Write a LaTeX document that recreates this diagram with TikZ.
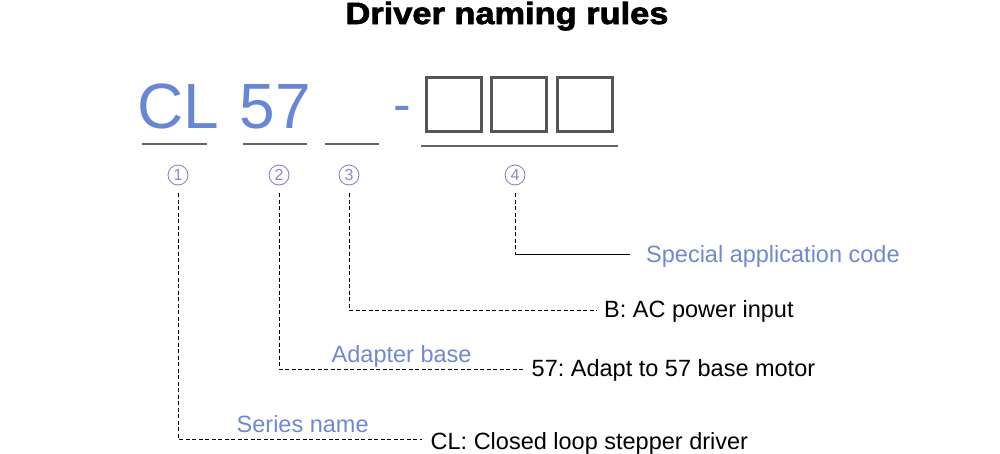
\documentclass[tikz,border=0pt]{standalone}
\usepackage{fontspec}
\setmainfont{Liberation Sans}
\newfontfamily\titlefont[FakeBold=2.2]{Liberation Sans Bold}
\frenchspacing
\definecolor{bigblue}{RGB}{104,134,214}
\definecolor{lblblue}{RGB}{112,136,210}
\definecolor{circ}{RGB}{135,135,205}
\definecolor{boxgray}{RGB}{85,85,85}
\definecolor{ulgray}{RGB}{100,100,100}
\begin{document}
\begin{tikzpicture}[x=1pt,y=-1pt,
  big/.style={inner sep=0pt,anchor=base west,text=bigblue,font=\fontsize{64}{64}\selectfont},
  codebox/.style={draw=boxgray,line width=3pt,minimum width=55pt,minimum height=54pt,inner sep=0pt},
  uline/.style={draw=ulgray,line width=1.8pt},
  num/.style={circle,draw=circ,line width=0.9pt,minimum size=20pt,inner sep=0pt,text=circ,font=\fontsize{16}{16}\selectfont},
  desc/.style={inner sep=0pt,anchor=base west,font=\fontsize{23.5}{23.5}\selectfont},
  lbl/.style={desc,text=lblblue},
  lead/.style={draw=black,line width=0.8pt,dash pattern=on 4pt off 2.5pt},
  solidlead/.style={draw=black,line width=0.8pt}]
\useasboundingbox (0,0) rectangle (1000,453);
% title
\node[inner sep=0pt,anchor=base] (title) at (507,24) {\scalebox{1.12}[1]{\fontsize{30.7}{30.7}\selectfont\titlefont Driver naming rules}};
% code
\node[big] (cl) at (137,128) {CL};
\node[big] (n57) at (239.5,128) {57};
\node[inner sep=0pt,anchor=base west,text=bigblue,font=\fontsize{53}{53}\selectfont] (dash) at (393.7,122.4) {-};
\node[codebox] (b1) at (454,104.5) {};
\node[codebox] (b2) at (518.5,104.5) {};
\node[codebox] (b3) at (584.5,104.5) {};
% underlines
\coordinate (u1a) at (142,144); \coordinate (u1b) at (207,144);
\coordinate (u2a) at (243,144); \coordinate (u2b) at (307,144);
\coordinate (u3a) at (325,144); \coordinate (u3b) at (379,144);
\coordinate (u4a) at (421,146); \coordinate (u4b) at (618,146);
\draw[uline] (u1a) -- (u1b);
\draw[uline] (u2a) -- (u2b);
\draw[uline] (u3a) -- (u3b);
\draw[uline] (u4a) -- (u4b);
% circled numbers
\node[num] (c1) at (178,175) {1};
\node[num] (c2) at (279,175) {2};
\node[num] (c3) at (349,175) {3};
\node[num] (c4) at (515,175) {4};
% descriptions
\node[lbl] (t4) at (646,262) {Special application code};
\node[desc] (t3) at (604,317) {B: AC power input};
\node[desc] (t2) at (531.5,376.7) {57: Adapt to 57 base motor};
\node[desc] (t1) at (430.5,449) {CL: Closed loop stepper driver};
\node[lbl] (l2) at (331.5,362) {Adapter base};
\node[lbl] (l1) at (236.5,432) {Series name};
% leaders
\coordinate (e1) at (422,439);
\coordinate (e2) at (525,369);
\coordinate (e3) at (597,310);
\coordinate (e4) at (630,254);
\coordinate (s1) at (178,193);
\coordinate (s2) at (279,193);
\coordinate (s3) at (349,193);
\coordinate (s4) at (515,193);
\draw[lead] (s1) |- (e1);
\draw[lead] (s2) |- (e2);
\draw[lead] (s3) |- (e3);
\coordinate (k4) at (515,254);
\draw[lead] (s4) -- (k4);
\draw[solidlead] (k4) -- (e4);
\end{tikzpicture}
\end{document}
